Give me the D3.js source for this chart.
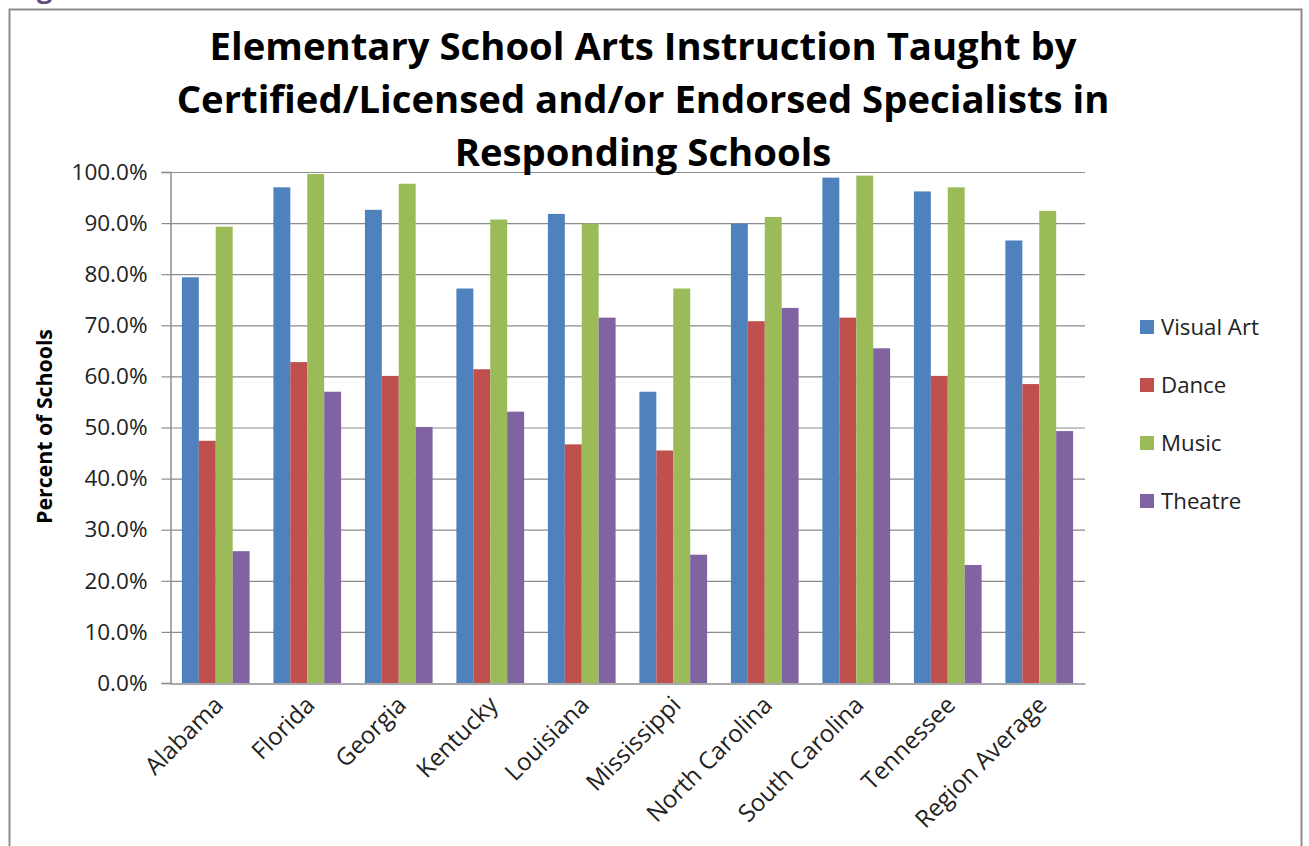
<!DOCTYPE html>
<html>
<head>
<meta charset="utf-8">
<script src="https://cdn.jsdelivr.net/npm/d3@7"></script>
<style>
  html, body { margin: 0; padding: 0; background: #fff; }
  svg { display: block; }
  text { font-family: "Open Sans", Lato, sans-serif; }
</style>
</head>
<body>
<svg width="1309" height="846"></svg>
<script>
const states = ['Alabama', 'Florida', 'Georgia', 'Kentucky', 'Louisiana', 'Mississippi',
  'North Carolina', 'South Carolina', 'Tennessee', 'Region Average'];
const seriesNames = ['Visual Art', 'Dance', 'Music', 'Theatre'];
const visualArt = [79.4, 97.0, 92.6, 77.2, 91.8, 57.0, 89.9, 98.9, 96.2, 86.6];
const dance     = [47.4, 62.8, 60.1, 61.4, 46.7, 45.5, 70.8, 71.5, 60.1, 58.5];
const music     = [89.3, 99.6, 97.7, 90.7, 89.9, 77.2, 91.2, 99.3, 97.0, 92.4];
const theatre   = [25.8, 57.0, 50.1, 53.1, 71.5, 25.1, 73.4, 65.5, 23.1, 49.3];
const yTicks = [0, 10, 20, 30, 40, 50, 60, 70, 80, 90, 100];
const colors = ['#4F81BD', '#C0504D', '#9BBB59', '#8064A2'];
const titleLines = ['Elementary School Arts Instruction Taught by',
  'Certified/Licensed and/or Endorsed Specialists in', 'Responding Schools'];

const series = [visualArt, dance, music, theatre];
const rows = states.map((s, i) => ({ state: s, values: series.map(v => v[i]) }));

const svg = d3.select('svg');
const plot = { left: 170, right: 1085, top: 172, bottom: 683 };

// shrink/grow a text selection so its widest member is `w` pixels wide
function fitWidth(sel, size, w) {
  sel.attr('font-size', size);
  const widest = d3.max(sel.nodes(), n => n.getComputedTextLength());
  sel.attr('font-size', size * w / widest);
}

// chart frame (cut off at the bottom in the source)
svg.append('path')
  .attr('d', 'M9.5,846 V9.5 H1301.5 V846')
  .attr('fill', 'none')
  .attr('stroke', '#8c8c8c')
  .attr('stroke-width', 2);

// heading from the page above, mostly clipped
svg.append('text')
  .attr('x', 14).attr('y', -2)
  .attr('font-family', '"Liberation Serif", serif')
  .attr('font-weight', 'bold')
  .attr('font-size', 27)
  .attr('fill', '#5F497A')
  .text('Figure 6');

const x0 = d3.scaleBand().domain(states).range([plot.left, plot.right])
  .paddingInner(0.26).paddingOuter(0.13);
const x1 = d3.scaleBand().domain(seriesNames).range([0, x0.bandwidth()]);
const y = d3.scaleLinear().domain([0, 100]).range([plot.bottom, plot.top]);

// gridlines
svg.append('g')
  .selectAll('line')
  .data(yTicks.filter(d => d > 0))
  .join('line')
  .attr('x1', plot.left).attr('x2', plot.right)
  .attr('y1', d => y(d) + 0.5).attr('y2', d => y(d) + 0.5)
  .attr('stroke', '#8c8c8c').attr('stroke-width', 1.2);

// y axis
const yAxis = svg.append('g')
  .attr('transform', `translate(${plot.left + 0.5},0)`)
  .call(d3.axisLeft(y).tickValues(yTicks).tickSize(9).tickPadding(14)
    .tickFormat(d => d.toFixed(1) + '%'));
yAxis.select('.domain').attr('stroke', '#8c8c8c').attr('stroke-width', 1.5);
yAxis.selectAll('.tick line').attr('stroke', '#8c8c8c').attr('stroke-width', 1.2);
yAxis.selectAll('.tick text')
  .attr('font-family', '"Open Sans", sans-serif')
  .attr('fill', '#222')
  .call(fitWidth, 18, 76);

// bars
svg.append('g')
  .selectAll('g')
  .data(rows)
  .join('g')
  .attr('transform', d => `translate(${x0(d.state)},0)`)
  .selectAll('rect')
  .data(d => d.values.map((v, k) => ({ key: seriesNames[k], value: v, k })))
  .join('rect')
  .attr('x', d => x1(d.key))
  .attr('width', x1.bandwidth())
  .attr('y', d => y(d.value))
  .attr('height', d => y(0) - y(d.value))
  .attr('fill', d => colors[d.k]);

// x axis
const xAxis = svg.append('g')
  .attr('transform', `translate(0,${plot.bottom + 0.5})`)
  .call(d3.axisBottom(x0).tickSize(0).tickPadding(0));
xAxis.select('.domain').attr('stroke', '#8c8c8c').attr('stroke-width', 1.5);
xAxis.selectAll('.tick text')
  .attr('font-family', '"Open Sans", sans-serif')
  .attr('fill', '#222')
  .attr('text-anchor', 'end')
  .attr('dy', 0)
  .attr('transform', 'translate(9,23) rotate(-45)')
  .call(fitWidth, 18, 174);

// y axis title
svg.append('text')
  .attr('transform', `translate(52,${(plot.top + plot.bottom) / 2 - 1}) rotate(-90)`)
  .attr('text-anchor', 'middle')
  .attr('font-weight', 'bold')
  .attr('fill', '#000')
  .text('Percent of Schools')
  .call(fitWidth, 18, 195);

// title, sized so the widest line matches the original
svg.append('g')
  .selectAll('text')
  .data(titleLines)
  .join('text')
  .attr('x', 643)
  .attr('y', (d, i) => 60 + i * 53)
  .attr('text-anchor', 'middle')
  .attr('font-family', 'Lato, sans-serif')
  .attr('font-weight', 'bold')
  .attr('fill', '#000')
  .text(d => d)
  .call(fitWidth, 38, 933);

// legend
const legend = svg.append('g')
  .selectAll('g')
  .data(seriesNames)
  .join('g')
  .attr('transform', (d, i) => `translate(1140,${327 + i * 58})`);
legend.append('rect')
  .attr('x', 0).attr('y', -7).attr('width', 14).attr('height', 14)
  .attr('fill', (d, i) => colors[i]);
legend.append('text')
  .attr('x', 21).attr('y', 0).attr('dy', '0.35em')
  .attr('fill', '#222')
  .text(d => d)
  .call(fitWidth, 19, 98);
</script>
</body>
</html>
